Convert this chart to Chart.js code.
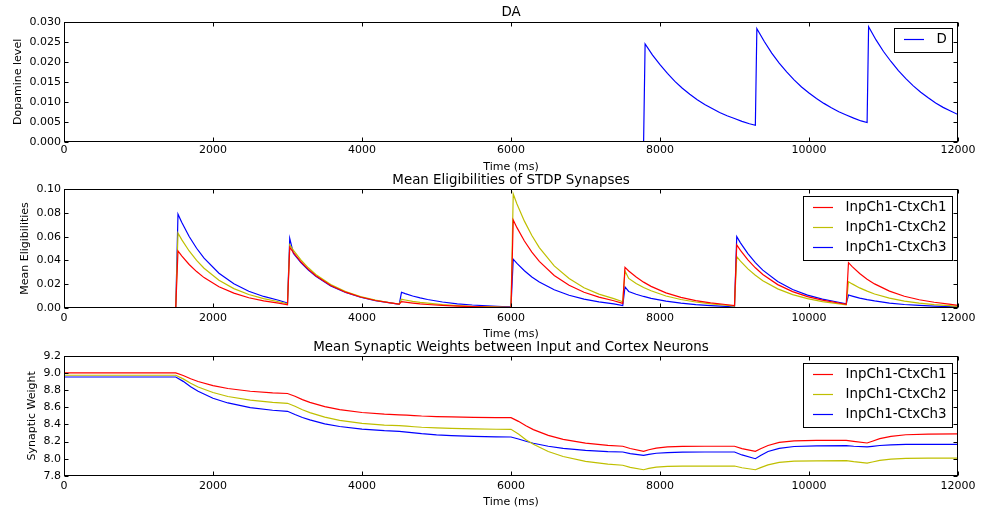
<!DOCTYPE html>
<html>
<head>
<meta charset="utf-8">
<title>Dopamine, eligibility and synaptic weights</title>
<script src="https://cdn.jsdelivr.net/npm/chart.js@4.4.1/dist/chart.umd.min.js"></script>
<style>
  html, body { margin: 0; padding: 0; background: #fff; }
  body { width: 982px; height: 511px; position: relative; overflow: hidden; }
  canvas { position: absolute; left: 0; }
</style>
</head>
<body>
<canvas id="cDA" width="982" height="180" style="top:0px"></canvas>
<canvas id="cElig" width="982" height="180" style="top:165px"></canvas>
<canvas id="cW" width="982" height="180" style="top:331px"></canvas>
<script>
// ---------- tick values ----------
const timeTicks = [0, 2000, 4000, 6000, 8000, 10000, 12000];
const daTicks = [0, 0.005, 0.010, 0.015, 0.020, 0.025, 0.030];
const eligTicks = [0, 0.02, 0.04, 0.06, 0.08, 0.10];
const weightTicks = [7.8, 8.0, 8.2, 8.4, 8.6, 8.8, 9.0, 9.2];

const seriesNames = ['InpCh1-CtxCh1', 'InpCh1-CtxCh2', 'InpCh1-CtxCh3'];

// ---------- dopamine level ----------
const daTime = [0, 7780,
  7800, 7900, 8000, 8100, 8200, 8300, 8400, 8500, 8600, 8700, 8800, 8900, 9000, 9100, 9200, 9280,
  9300, 9400, 9500, 9600, 9700, 9800, 9900, 10000, 10100, 10200, 10300, 10400, 10500, 10600, 10700, 10780,
  10800, 10900, 11000, 11100, 11200, 11300, 11400, 11500, 11600, 11700, 11800, 11900, 12000];
const daLevel = [0, 0,
  0.0245, 0.0217, 0.0193, 0.0171, 0.0151, 0.0134, 0.0119, 0.0105, 0.0093, 0.0083, 0.0073, 0.0065, 0.0058, 0.0051, 0.0045, 0.0041,
  0.0283, 0.0251, 0.0222, 0.0197, 0.0175, 0.0155, 0.0137, 0.0122, 0.0108, 0.0096, 0.0085, 0.0075, 0.0067, 0.0059, 0.0052, 0.0048,
  0.0288, 0.0255, 0.0226, 0.0201, 0.0178, 0.0158, 0.0140, 0.0124, 0.0110, 0.0097, 0.0086, 0.0077, 0.0068];

// ---------- mean eligibilities ----------
const eligTime = [0,
  1500, 1530, 1580, 1680, 1780, 1880, 2080, 2280, 2480, 2680, 2880,
  3000, 3030, 3080, 3180, 3280, 3380, 3580, 3780, 3980, 4180, 4380,
  4500, 4530, 4580, 4680, 4780, 4880, 5080, 5280, 5480, 5680, 5880,
  6000, 6030, 6080, 6180, 6280, 6380, 6580, 6780, 6980, 7180, 7380,
  7500, 7530, 7580, 7680, 7780, 7880, 8080, 8280, 8480, 8680, 8880,
  9000, 9030, 9080, 9180, 9280, 9380, 9580, 9780, 9980, 10180, 10380,
  10500, 10530, 10580, 10680, 10780, 10880, 11080, 11280, 11480, 11680, 11880,
  12000];
const eligCh1 = [0,
  0, 0.048, 0.0438, 0.0365, 0.0305, 0.0254, 0.0177, 0.0123, 0.0084, 0.0058, 0.0038,
  0.0025, 0.051, 0.0466, 0.0388, 0.0324, 0.0270, 0.0188, 0.0131, 0.0090, 0.0061, 0.0041,
  0.0030, 0.0051, 0.0047, 0.0039, 0.0032, 0.0027, 0.0019, 0.0013, 0.0009, 0.0006, 0.0004,
  0.0003, 0.074, 0.0676, 0.0563, 0.0470, 0.0391, 0.0272, 0.0189, 0.0130, 0.0089, 0.0059,
  0.0036, 0.034, 0.0310, 0.0259, 0.0216, 0.0180, 0.0125, 0.0087, 0.0060, 0.0041, 0.0027,
  0.0018, 0.053, 0.0484, 0.0403, 0.0337, 0.0280, 0.0195, 0.0136, 0.0093, 0.0064, 0.0042,
  0.0029, 0.038, 0.0347, 0.0289, 0.0241, 0.0201, 0.0140, 0.0097, 0.0067, 0.0046, 0.0030,
  0.0020];
const eligCh2 = [0,
  0, 0.063, 0.0575, 0.0479, 0.0400, 0.0333, 0.0232, 0.0161, 0.0111, 0.0076, 0.0050,
  0.0033, 0.053, 0.0484, 0.0403, 0.0337, 0.0280, 0.0195, 0.0136, 0.0093, 0.0064, 0.0042,
  0.0031, 0.0071, 0.0065, 0.0054, 0.0045, 0.0038, 0.0026, 0.0018, 0.0012, 0.0009, 0.0006,
  0.0004, 0.096, 0.0876, 0.0731, 0.0610, 0.0508, 0.0353, 0.0246, 0.0169, 0.0115, 0.0077,
  0.0050, 0.031, 0.0247, 0.0205, 0.0171, 0.0143, 0.0099, 0.0069, 0.0048, 0.0032, 0.0022,
  0.0013, 0.0431, 0.0394, 0.0328, 0.0274, 0.0228, 0.0159, 0.0110, 0.0076, 0.0052, 0.0034,
  0.0024, 0.022, 0.0201, 0.0167, 0.0140, 0.0116, 0.0081, 0.0056, 0.0039, 0.0026, 0.0018,
  0.0011];
const eligCh3 = [0,
  0, 0.079, 0.0721, 0.0601, 0.0502, 0.0418, 0.0291, 0.0202, 0.0139, 0.0095, 0.0063,
  0.0040, 0.0586, 0.0457, 0.0381, 0.0318, 0.0265, 0.0184, 0.0128, 0.0088, 0.0060, 0.0040,
  0.0029, 0.0130, 0.0119, 0.0099, 0.0083, 0.0069, 0.0048, 0.0033, 0.0023, 0.0016, 0.0010,
  0.0008, 0.041, 0.0374, 0.0312, 0.0260, 0.0217, 0.0151, 0.0105, 0.0072, 0.0049, 0.0033,
  0.0018, 0.0175, 0.0137, 0.0114, 0.0095, 0.0079, 0.0055, 0.0038, 0.0026, 0.0018, 0.0012,
  0.0005, 0.060, 0.0548, 0.0457, 0.0381, 0.0317, 0.0221, 0.0154, 0.0106, 0.0072, 0.0048,
  0.0032, 0.0107, 0.0098, 0.0081, 0.0068, 0.0057, 0.0039, 0.0027, 0.0019, 0.0013, 0.0009,
  0.0005];

// ---------- mean synaptic weights ----------
const wTime = [0, 1500, 1600, 1700, 1800, 2000, 2200, 2500, 2800,
  3000, 3100, 3200, 3300, 3500, 3700, 4000, 4300,
  4500, 4600, 4700, 4800, 5000, 5200, 5500, 5800,
  6000, 6100, 6200, 6300, 6500, 6700, 7000, 7300,
  7500, 7600, 7780,
  7850, 7950, 8100, 8300, 8600,
  9000, 9100, 9280,
  9350, 9450, 9600, 9800, 10100,
  10500, 10600, 10780,
  10850, 10950, 11100, 11300, 11600, 12000];
const wCh1 = [9.000, 9.000, 8.969, 8.931, 8.900, 8.852, 8.818, 8.786, 8.767,
  8.760, 8.728, 8.689, 8.657, 8.607, 8.572, 8.539, 8.520,
  8.512, 8.508, 8.503, 8.498, 8.492, 8.487, 8.483, 8.480,
  8.479, 8.436, 8.384, 8.340, 8.273, 8.227, 8.182, 8.156,
  8.146, 8.120, 8.087,
  8.105, 8.125, 8.138, 8.144, 8.146,
  8.146, 8.118, 8.087,
  8.118, 8.155, 8.192, 8.208, 8.214,
  8.215, 8.203, 8.184,
  8.205, 8.235, 8.262, 8.280, 8.287, 8.289];
const wCh2 = [8.972, 8.972, 8.930, 8.879, 8.836, 8.771, 8.725, 8.682, 8.656,
  8.646, 8.612, 8.571, 8.537, 8.485, 8.448, 8.413, 8.393,
  8.385, 8.380, 8.373, 8.367, 8.359, 8.353, 8.348, 8.344,
  8.343, 8.289, 8.223, 8.169, 8.085, 8.027, 7.971, 7.938,
  7.925, 7.900, 7.873,
  7.888, 7.903, 7.911, 7.915, 7.916,
  7.916, 7.896, 7.873,
  7.898, 7.930, 7.958, 7.972, 7.977,
  7.978, 7.967, 7.951,
  7.963, 7.982, 7.997, 8.006, 8.009, 8.009];
const wCh3 = [8.952, 8.952, 8.901, 8.838, 8.786, 8.705, 8.650, 8.596, 8.565,
  8.553, 8.515, 8.481, 8.453, 8.407, 8.376, 8.345, 8.327,
  8.320, 8.311, 8.301, 8.292, 8.279, 8.270, 8.261, 8.256,
  8.254, 8.231, 8.204, 8.181, 8.146, 8.122, 8.098, 8.084,
  8.079, 8.060, 8.041,
  8.052, 8.065, 8.073, 8.077, 8.079,
  8.079, 8.045, 8.001,
  8.038, 8.085, 8.122, 8.143, 8.151,
  8.153, 8.146, 8.138,
  8.145, 8.155, 8.163, 8.168, 8.169, 8.169];

// ---------- drawing helpers ----------
const FONT = 'DejaVu Sans';
const RED = '#ff0000', YELLOW = '#bfbf00', BLUE = '#0000ff';

// Box frame around the plot with inward-pointing tick marks on all four sides
const frameTicks = {
  id: 'frameTicks',
  afterDatasetsDraw(chart) {
    const { ctx, chartArea: a, scales } = chart;
    const L = Math.round(a.left) + 0.5, R = Math.round(a.right) - 0.5;
    const T = Math.round(a.top) + 0.5, B = Math.round(a.bottom) - 0.5;
    const len = 4;
    ctx.save();
    ctx.strokeStyle = '#000';
    ctx.lineWidth = 1;
    ctx.beginPath();
    scales.x.ticks.forEach(t => {
      const px = Math.round(scales.x.getPixelForValue(t.value)) + 0.5;
      ctx.moveTo(px, B); ctx.lineTo(px, B - len);
      ctx.moveTo(px, T); ctx.lineTo(px, T + len);
    });
    scales.y.ticks.forEach(t => {
      const py = Math.round(scales.y.getPixelForValue(t.value)) + 0.5;
      ctx.moveTo(L, py); ctx.lineTo(L + len, py);
      ctx.moveTo(R, py); ctx.lineTo(R - len, py);
    });
    ctx.stroke();
    ctx.strokeRect(L, T, R - L, B - T);
    ctx.restore();
  }
};

// Framed legend in the upper right corner of the plot area
const boxLegend = {
  id: 'boxLegend',
  afterDatasetsDraw(chart, args, opts) {
    const { ctx, chartArea: a } = chart;
    const sets = chart.data.datasets;
    ctx.save();
    ctx.font = '13.4px "' + FONT + '"';
    const tw = Math.max(...sets.map(d => ctx.measureText(d.label).width));
    const w = Math.round(9.5 + 20 + 12.5 + tw + 6);
    const h = Math.round(11.5 + 20 * (sets.length - 1) + 12);
    const x0 = Math.round(a.right - opts.insetRight - w) + 0.5;
    const y0 = Math.round(a.top + opts.insetTop) + 0.5;
    ctx.fillStyle = '#fff';
    ctx.fillRect(x0, y0, w, h);
    ctx.strokeStyle = '#000';
    ctx.lineWidth = 1;
    ctx.strokeRect(x0, y0, w, h);
    sets.forEach((d, i) => {
      const y = y0 + 11 + 20 * i;
      ctx.strokeStyle = d.borderColor;
      ctx.lineWidth = d.borderWidth;
      ctx.beginPath();
      ctx.moveTo(x0 + 9.5, y);
      ctx.lineTo(x0 + 29.5, y);
      ctx.stroke();
      ctx.fillStyle = '#000';
      ctx.textAlign = 'left';
      ctx.textBaseline = 'middle';
      ctx.fillText(d.label, x0 + 42, y + 0.5);
    });
    ctx.restore();
  }
};

function makeChart(id, cfg) {
  return new Chart(document.getElementById(id), {
    type: 'line',
    data: {
      datasets: cfg.series.map(s => ({
        label: s.label,
        data: cfg.time.map((t, i) => ({ x: t, y: s.values[i] })),
        borderColor: s.color,
        borderWidth: 1.2,
        pointRadius: 0,
        tension: 0,
        fill: false
      }))
    },
    options: {
      responsive: false,
      animation: false,
      events: [],
      layout: { padding: { left: 0, right: 24, top: 0, bottom: 0 } },
      plugins: {
        legend: { display: false },
        tooltip: { enabled: false },
        title: {
          display: true, text: cfg.title, fullSize: false, color: '#000',
          font: { family: FONT, size: 13.4, weight: 'normal' },
          padding: { top: cfg.titleTop, bottom: cfg.titleBottom }
        },
        boxLegend: { insetRight: 6.3, insetTop: cfg.legendTop }
      },
      scales: {
        x: {
          type: 'linear', min: 0, max: 12000,
          grid: { display: false, drawTicks: false }, border: { display: false },
          afterBuildTicks: s => { s.ticks = timeTicks.map(v => ({ value: v })); },
          afterFit: s => { s.height = cfg.xHeight; },
          ticks: {
            color: '#000', font: { family: FONT, size: 11 }, padding: cfg.xTickPad,
            maxRotation: 0, autoSkip: false, callback: v => String(v)
          },
          title: {
            display: true, text: 'Time (ms)', color: '#000',
            font: { family: FONT, size: 11 }, padding: { top: 0, bottom: cfg.xTitlePad }
          }
        },
        y: {
          type: 'linear', min: cfg.yMin, max: cfg.yMax,
          grid: { display: false, drawTicks: false }, border: { display: false },
          afterBuildTicks: s => { s.ticks = cfg.yTicks.map(v => ({ value: v })); },
          afterFit: s => { s.width = 64; },
          ticks: {
            color: '#000', font: { family: FONT, size: 11 }, padding: 3,
            callback: v => Number(v).toFixed(cfg.yDigits)
          },
          title: {
            display: true, text: cfg.yLabel, color: '#000',
            font: { family: FONT, size: 11 }, padding: { top: cfg.yTitlePad, bottom: 0 }
          }
        }
      }
    },
    plugins: [frameTicks, boxLegend]
  });
}

makeChart('cDA', {
  title: 'DA', titleTop: 4, titleBottom: 1.9,
  time: daTime,
  series: [{ label: 'D', values: daLevel, color: BLUE }],
  yMin: 0, yMax: 0.03, yTicks: daTicks, yDigits: 3, yLabel: 'Dopamine level', yTitlePad: 11.1,
  xHeight: 38.3, xTickPad: 1.7, xTitlePad: 6.4, legendTop: 6.3
});

makeChart('cElig', {
  title: 'Mean Eligibilities of STDP Synapses', titleTop: 7, titleBottom: 1.2,
  time: eligTime,
  series: [
    { label: seriesNames[0], values: eligCh1, color: RED },
    { label: seriesNames[1], values: eligCh2, color: YELLOW },
    { label: seriesNames[2], values: eligCh3, color: BLUE }
  ],
  yMin: 0, yMax: 0.10, yTicks: eligTicks, yDigits: 2, yLabel: 'Mean Eligibilities', yTitlePad: 18.4,
  xHeight: 37.3, xTickPad: 3.5, xTitlePad: 3.9, legendTop: 6.5
});

makeChart('cW', {
  title: 'Mean Synaptic Weights between Input and Cortex Neurons', titleTop: 8, titleBottom: 0.6,
  time: wTime,
  series: [
    { label: seriesNames[0], values: wCh1, color: RED },
    { label: seriesNames[1], values: wCh2, color: YELLOW },
    { label: seriesNames[2], values: wCh3, color: BLUE }
  ],
  yMin: 7.8, yMax: 9.2, yTicks: weightTicks, yDigits: 1, yLabel: 'Synaptic Weight', yTitlePad: 25.1,
  xHeight: 35, xTickPad: 3.2, xTitlePad: 2.7, legendTop: 7.5
});
</script>
</body>
</html>
